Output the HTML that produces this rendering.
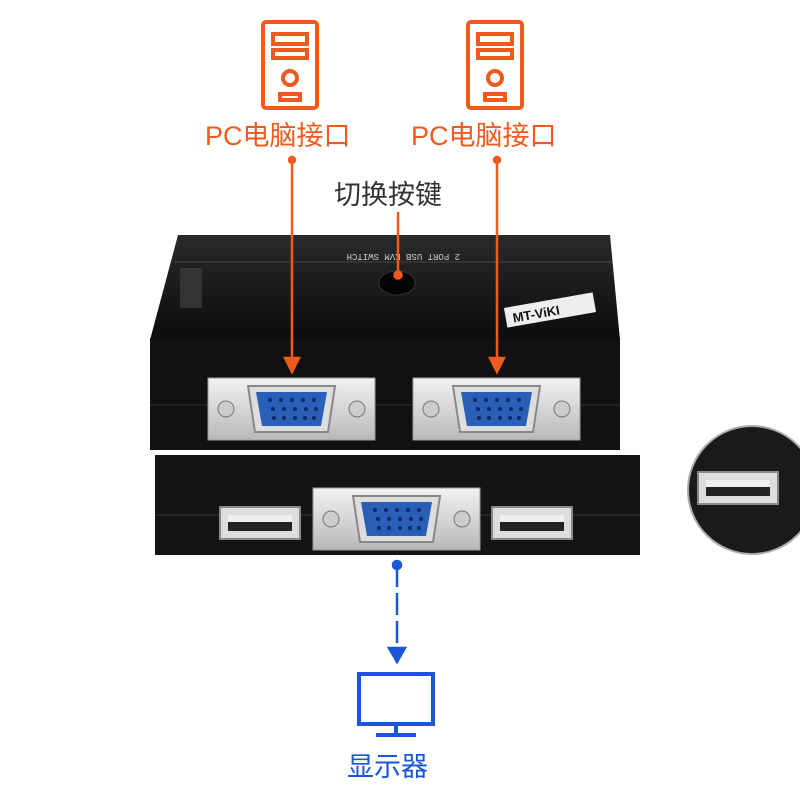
<!DOCTYPE html>
<html><head><meta charset="utf-8"><style>
body{margin:0;background:#fff;width:800px;height:800px;overflow:hidden;position:relative;font-family:"Liberation Sans","Noto Sans CJK SC",sans-serif}
.t{position:absolute;font-size:27px;white-space:nowrap}
</style></head><body>
<svg width="800" height="800" style="position:absolute;left:0;top:0">
<defs>
<linearGradient id="sil" x1="0" y1="0" x2="0" y2="1"><stop offset="0" stop-color="#f2f2f2"/><stop offset="1" stop-color="#b8b8b8"/></linearGradient>
<linearGradient id="top" x1="0" y1="0" x2="0" y2="1"><stop offset="0" stop-color="#2a2a2a"/><stop offset="1" stop-color="#0c0c0c"/></linearGradient>
<g id="pc" fill="none" stroke="#f05a1e" stroke-width="4">
<rect x="0" y="0" width="54" height="86" rx="3"/>
<rect x="10" y="12" width="34" height="10"/><rect x="10" y="28" width="34" height="8"/>
<circle cx="27" cy="56" r="7"/><rect x="17" y="72" width="20" height="6"/>
</g>
<g id="vga">
<rect x="0" y="0" width="167" height="62" fill="url(#sil)" stroke="#999"/>
<circle cx="18" cy="31" r="8" fill="#ccc" stroke="#777"/><circle cx="149" cy="31" r="8" fill="#ccc" stroke="#777"/>
<path d="M40 8 H127 L120 54 H47 Z" fill="#ddd" stroke="#888" stroke-width="2"/>
<path d="M48 14 H119 L113 48 H54 Z" fill="#2a5fb8"/>
<g fill="#0d2a66">
<circle cx="62" cy="22" r="2"/><circle cx="73" cy="22" r="2"/><circle cx="84" cy="22" r="2"/><circle cx="95" cy="22" r="2"/><circle cx="106" cy="22" r="2"/>
<circle cx="65" cy="31" r="2"/><circle cx="76" cy="31" r="2"/><circle cx="87" cy="31" r="2"/><circle cx="98" cy="31" r="2"/><circle cx="108" cy="31" r="2"/>
<circle cx="66" cy="40" r="2"/><circle cx="76" cy="40" r="2"/><circle cx="87" cy="40" r="2"/><circle cx="97" cy="40" r="2"/><circle cx="106" cy="40" r="2"/>
</g>
</g>
<g id="usb"><rect x="0" y="0" width="80" height="32" fill="#ddd" stroke="#888" stroke-width="2"/><rect x="8" y="8" width="64" height="16" fill="#222"/><rect x="8" y="8" width="64" height="7" fill="#eee"/></g>
</defs>
<use href="#pc" x="263" y="22"/><use href="#pc" x="468" y="22"/>
<path d="M178 235 H610 L620 340 H150 Z" fill="url(#top)"/>
<rect x="150" y="338" width="470" height="112" fill="#111"/>
<line x1="150" y1="405" x2="620" y2="405" stroke="#333"/>
<line x1="175" y1="262" x2="612" y2="262" stroke="#444"/>
<rect x="180" y="268" width="22" height="40" fill="#333"/>
<text x="330" y="258" font-size="9" fill="#ccc" transform="rotate(180 395 256)" font-family="Liberation Mono">2 PORT USB KVM SWITCH</text>
<ellipse cx="397" cy="283" rx="18" ry="12" fill="#050505" stroke="#333"/>
<rect x="505" y="300" width="90" height="20" fill="#eee" transform="rotate(-10 550 310)"/>
<text x="512" y="316" font-size="13" font-weight="bold" fill="#111" transform="rotate(-10 550 310)">MT-ViKI</text>
<use href="#vga" x="208" y="378"/><use href="#vga" x="413" y="378"/>
<rect x="155" y="455" width="485" height="100" fill="#141414"/>
<line x1="155" y1="515" x2="640" y2="515" stroke="#333"/>
<use href="#vga" x="313" y="488"/>
<use href="#usb" x="220" y="507"/><use href="#usb" x="492" y="507"/>
<circle cx="752" cy="490" r="64" fill="#1a1a1a" stroke="#aaa" stroke-width="2"/>
<use href="#usb" x="698" y="472"/>
<g stroke="#f05a1e" stroke-width="2.5" fill="#f05a1e">
<circle cx="292" cy="160" r="3"/><line x1="292" y1="160" x2="292" y2="360"/><path d="M285 358 L292 372 L299 358 Z"/>
<circle cx="497" cy="160" r="3"/><line x1="497" y1="160" x2="497" y2="360"/><path d="M490 358 L497 372 L504 358 Z"/>
<line x1="398" y1="212" x2="398" y2="272"/><circle cx="398" cy="275" r="3.5"/>
</g>
<g stroke="#1a56d6" stroke-width="2.5" fill="#1a56d6">
<circle cx="397" cy="565" r="4"/><line x1="397" y1="565" x2="397" y2="650" stroke-dasharray="22 6"/><path d="M389 648 L397 662 L405 648 Z"/>
<rect x="359" y="674" width="74" height="50" fill="none" stroke-width="4"/>
<line x1="396" y1="724" x2="396" y2="733" stroke-width="4"/><line x1="376" y1="735" x2="416" y2="735" stroke-width="4"/>
</g>
</svg>
<div class="t" style="left:205px;top:114px;color:#f05a1e">PC电脑接口</div>
<div class="t" style="left:411px;top:114px;color:#f05a1e">PC电脑接口</div>
<div class="t" style="left:334px;top:173px;color:#333">切换按键</div>
<div class="t" style="left:347px;top:745px;color:#1a56d6">显示器</div>
</body></html>
